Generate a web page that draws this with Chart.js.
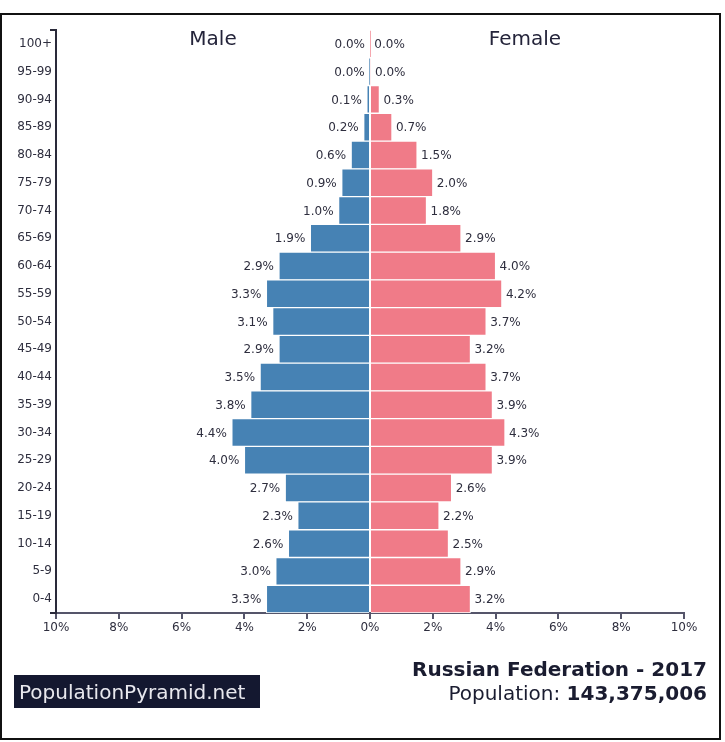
<!DOCTYPE html>
<html>
<head>
<meta charset="utf-8">
<script src="https://cdn.jsdelivr.net/npm/chart.js@4/dist/chart.umd.min.js"></script>
<style>
  html, body { margin: 0; padding: 0; background: #fff; }
  #wrap { position: relative; width: 725px; height: 742px; }
</style>
</head>
<body>
<div id="wrap"><canvas id="pyramide" width="725" height="742"></canvas></div>
<script>
// ===== DADOS =====
const faixas = ['100+', '95-99', '90-94', '85-89', '80-84', '75-79', '70-74', '65-69', '60-64', '55-59',
    '50-54', '45-49', '40-44', '35-39', '30-34', '25-29', '20-24', '15-19', '10-14', '5-9', '0-4'];
const homens = [0.0, 0.01, 0.1, 0.2, 0.6, 0.9, 1.0, 1.9, 2.9, 3.3, 3.1, 2.9, 3.5, 3.8, 4.4, 4.0, 2.7, 2.3, 2.6, 3.0, 3.3];
const mulheres = [0.01, 0.03, 0.3, 0.7, 1.5, 2.0, 1.8, 2.9, 4.0, 4.2, 3.7, 3.2, 3.7, 3.9, 4.3, 3.9, 2.6, 2.2, 2.5, 2.9, 3.2];
const ticksX = [-10, -8, -6, -4, -2, 0, 2, 4, 6, 8, 10];

const corTexto = '#2e2e3e';
const fonte = '"DejaVu Sans", sans-serif';

// ===== PLUGIN DE TEXTOS =====
const extras = {
    id: 'extras',
    afterDatasetsDraw(chart) {
        const ctx = chart.ctx;
        ctx.save();
        ctx.font = '12px ' + fonte;
        ctx.fillStyle = corTexto;
        ctx.textBaseline = 'middle';
        chart.data.datasets.forEach((ds, i) => {
            chart.getDatasetMeta(i).data.forEach((el, j) => {
                const v = Math.abs(ds.data[j]).toFixed(1) + '%';
                if (i === 0) { ctx.textAlign = 'right'; ctx.fillText(v, el.x - 5, el.y + 1); }
                else { ctx.textAlign = 'left'; ctx.fillText(v, el.x + 4, el.y + 1); }
            });
        });
        ctx.restore();
    },
    afterDraw(chart) {
        const ctx = chart.ctx;
        const a = chart.chartArea;
        ctx.save();
        // moldura
        ctx.strokeStyle = '#111';
        ctx.lineWidth = 2;
        ctx.strokeRect(1, 14, 719, 725);
        // pontas do eixo
        ctx.strokeStyle = '#2a2a3a';
        ctx.lineWidth = 2;
        ctx.beginPath();
        ctx.moveTo(a.left - 6, a.top); ctx.lineTo(a.left, a.top);
        ctx.moveTo(a.left - 6, a.bottom); ctx.lineTo(a.left, a.bottom);
        ctx.stroke();
        // titulos
        ctx.fillStyle = '#24243a';
        ctx.font = '20px ' + fonte;
        ctx.textAlign = 'center';
        ctx.textBaseline = 'alphabetic';
        ctx.fillText('Male', 213, 45);
        ctx.fillText('Female', 525, 45);
        // rodape
        ctx.textAlign = 'right';
        ctx.fillStyle = '#1a1c30';
        ctx.font = 'bold 20px ' + fonte;
        ctx.fillText('Russian Federation - 2017', 707, 676);
        const num = '143,375,006';
        ctx.fillText(num, 707, 700);
        const w = ctx.measureText(num).width;
        ctx.font = '20px ' + fonte;
        ctx.fillText('Population: ', 707 - w, 700);
        // marca
        ctx.fillStyle = '#141830';
        ctx.fillRect(14, 675, 246, 33);
        ctx.fillStyle = '#e8e8ee';
        ctx.textAlign = 'left';
        ctx.font = '20px ' + fonte;
        ctx.fillText('PopulationPyramid.net', 19, 699);
        ctx.restore();
    }
};

// ===== GRAFICO =====
new Chart(document.getElementById('pyramide').getContext('2d'), {
    type: 'bar',
    data: {
        labels: faixas,
        datasets: [
            { label: 'Male', data: homens.map(v => -v), backgroundColor: '#4682b4', borderColor: '#ffffff', borderWidth: 1 },
            { label: 'Female', data: mulheres, backgroundColor: '#f07b88', borderColor: '#ffffff', borderWidth: 1 }
        ]
    },
    options: {
        indexAxis: 'y',
        responsive: false,
        animation: false,
        devicePixelRatio: 1,
        layout: { padding: { top: 30, right: 41, bottom: 99, left: 0 } },
        datasets: { bar: { barPercentage: 1, categoryPercentage: 1 } },
        plugins: { legend: { display: false }, tooltip: { enabled: false } },
        scales: {
            x: {
                stacked: true,
                min: -10, max: 10,
                afterBuildTicks: s => { s.ticks = ticksX.map(v => ({ value: v })); },
                afterFit: s => { s.height = 30; },
                ticks: {
                    callback: v => Math.abs(v) + '%',
                    color: corTexto,
                    font: { family: fonte, size: 12 },
                    padding: 2,
                    maxRotation: 0
                },
                grid: { drawOnChartArea: false, drawTicks: true, tickLength: 6, color: '#55556a', lineWidth: 2 },
                border: { display: true, color: '#55556a', width: 2 }
            },
            y: {
                stacked: true,
                afterFit: s => { s.width = 56; },
                ticks: {
                    color: corTexto,
                    font: { family: fonte, size: 12 },
                    padding: 4
                },
                grid: { display: true, drawOnChartArea: false, drawTicks: false },
                border: { display: true, color: '#2a2a3a', width: 2 }
            }
        }
    },
    plugins: [extras]
});
</script>
</body>
</html>
